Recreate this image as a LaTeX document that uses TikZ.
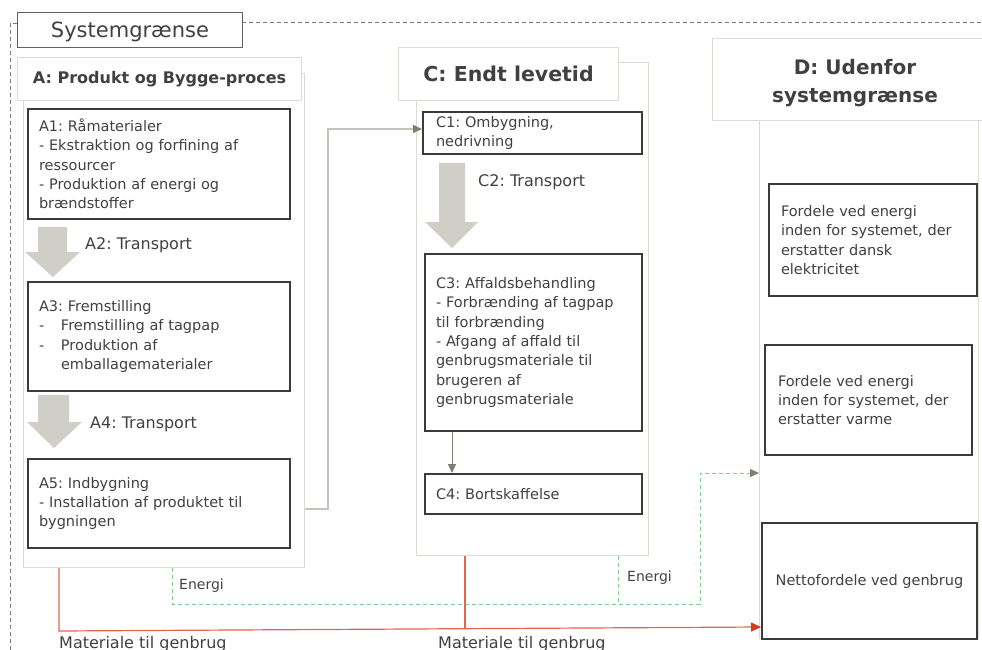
\documentclass[tikz,border=0pt]{standalone}
\usepackage{fontspec}
\setmainfont{DejaVu Sans}
\usetikzlibrary{arrows.meta,calc}
\frenchspacing
\definecolor{txtc}{HTML}{404040}
\definecolor{boxc}{HTML}{3A3A3A}
\definecolor{panelc}{HTML}{DCDCD6}
\definecolor{blockc}{HTML}{CFCFC7}
\definecolor{gconnc}{HTML}{C4C4BC}
\definecolor{olivec}{HTML}{7F7F6F}
\definecolor{greenc}{HTML}{80CC90}
\definecolor{redc}{HTML}{E46450}
\definecolor{redhead}{HTML}{D43A1E}
\definecolor{boundc}{HTML}{7A7A7A}
\begin{document}
\frenchspacing
\begin{tikzpicture}[x=1pt,y=-1pt,
  every node/.style={text=txtc, inner sep=0pt},
  panel/.style={draw=panelc, line width=1.1pt, fill=white, anchor=north west},
  hdr/.style={draw=panelc, line width=1.1pt, fill=white, anchor=north west, align=center},
  procbox/.style={draw=boxc, line width=2pt, fill=white, anchor=north west, align=left,
    font=\fontsize{14.5}{19.3}\selectfont},
  lbl/.style={anchor=base west},
  gconn/.style={draw=gconnc, line width=1.8pt, -{Triangle[length=9pt,width=8pt,color=olivec]}},
  olivearrow/.style={draw=olivec, line width=1pt, -{Triangle[length=9pt,width=8pt,color=olivec]}},
  energy/.style={draw=greenc, line width=1pt, dash pattern=on 4pt off 3pt},
  matl/.style={draw=redc, line width=1.2pt},
  bound/.style={draw=boundc, line width=0.9pt, dash pattern=on 4pt off 3pt}
]
\useasboundingbox (0,0) rectangle (982,650);

% system boundary
\draw[bound] (17,23) -- (10,23) -- (10,650);
\draw[bound] (242,22) -- (982,22);
\node[draw=boxc!80, line width=1.1pt, fill=white, anchor=north west, minimum width=225, minimum height=35] (sysg) at (17,12) {};
\node[font=\fontsize{21}{24}\selectfont, anchor=base] (sysgt) at (130,38) {Systemgrænse};

% panels
\node[panel, minimum width=281, minimum height=494] (apanel) at (23,73) {};
\node[panel, minimum width=232, minimum height=493] (cpanel) at (416,62) {};
\node[panel, minimum width=219, minimum height=518] (dpanel) at (759,120) {};

% headers
\node[hdr, minimum width=284, minimum height=43, font=\bfseries\fontsize{16}{19}\selectfont] (ahead) at (17,57) {A: Produkt og Bygge-proces};
\node[hdr, minimum width=220, minimum height=53, font=\bfseries\fontsize{20.5}{24}\selectfont] (chead) at (398,47) {C: Endt levetid};
\node[hdr, minimum width=286, minimum height=82] (dhead) at (712,38) {};
\node[font=\bfseries\fontsize{20}{28}\selectfont, align=center] (dheadt) at (855,83) {D: Udenfor\\systemgrænse};

% A boxes
\node[procbox, minimum height=110, inner xsep=11pt, text width=240pt] (a1) at (27,108)
  {A1: Råmaterialer\\- Ekstraktion og forfining af\\ressourcer\\- Produktion af energi og\\brændstoffer};
\node[procbox, minimum height=109, inner xsep=11pt, text width=240pt] (a3) at (27,281)
  {A3: Fremstilling\\\makebox[22pt][l]{-}Fremstilling af tagpap\\\makebox[22pt][l]{-}Produktion af\\\hspace*{22pt}emballagematerialer};
\node[procbox, minimum height=89, inner xsep=11pt, text width=240pt] (a5) at (27,458)
  {A5: Indbygning\\- Installation af produktet til\\bygningen};

% C boxes
\node[procbox, minimum height=42, inner xsep=13pt, text width=193pt] (c1) at (422,111)
  {C1: Ombygning,\\nedrivning};
\node[procbox, minimum height=177, inner xsep=11pt, text width=195pt] (c3) at (424,253)
  {C3: Affaldsbehandling\\- Forbrænding af tagpap\\til forbrænding\\- Afgang af affald til\\genbrugsmateriale til\\brugeren af\\genbrugsmateriale};
\node[procbox, minimum height=40, inner xsep=11pt, text width=195pt] (c4) at (424,473)
  {C4: Bortskaffelse};

% D boxes
\node[procbox, minimum height=112, inner xsep=12pt, text width=184pt] (d1) at (768,183)
  {Fordele ved energi\\inden for systemet, der\\erstatter dansk\\elektricitet};
\node[procbox, minimum height=110, inner xsep=13pt, text width=181pt] (d2) at (764,344)
  {Fordele ved energi\\inden for systemet, der\\erstatter varme};
\node[procbox, minimum height=116, minimum width=215, align=center] (d3) at (761,522)
  {Nettofordele ved genbrug};

% block arrows
\fill[blockc] (38,227) -- (67,227) -- (67,252) -- (80,252) -- (53,277) -- (25,252) -- (38,252) -- cycle;
\fill[blockc] (38,395) -- (69,395) -- (69,422) -- (82,422) -- (54,448) -- (27,422) -- (38,422) -- cycle;
\fill[blockc] (439,163) -- (465,163) -- (465,222) -- (478,222) -- (452,248) -- (425,222) -- (439,222) -- cycle;

\node[lbl, font=\fontsize{16}{19}\selectfont] (a2l) at (85,249) {A2: Transport};
\node[lbl, font=\fontsize{16}{19}\selectfont] (a4l) at (90,428) {A4: Transport};
\node[lbl, font=\fontsize{16}{19}\selectfont] (c2l) at (478,186) {C2: Transport};

% connectors
\coordinate (g1) at (328,509);
\coordinate (g2) at (328,129);
\draw[gconn] (apanel.east |- g1) -- (g1) -- (g2) -- (c1.west |- g2);

\coordinate (k) at (452,0);
\draw[olivearrow] (c3.south -| k) -- (c4.north -| k);

\coordinate (e1) at (172,604);
\coordinate (e2) at (700,604);
\coordinate (e3) at (700,473);
\coordinate (e4) at (618,604);
\draw[energy, -{Triangle[length=9pt,width=8pt,color=olivec]}] (apanel.south -| e1) -- (e1) -- (e2) -- (e3) -- (dpanel.west |- e3);
\draw[energy] (cpanel.south -| e4) -- (e4);

\coordinate (m1) at (59,631);
\coordinate (m2) at (759,627);
\coordinate (m3) at (465,629);
\draw[matl, -{Triangle[length=10pt,width=9pt,color=redhead]}] (apanel.south -| m1) -- (m1) -- (d3.west |- m2);
\draw[matl] (cpanel.south -| m3) -- (m3);

\node[lbl, font=\fontsize{14}{17}\selectfont] (en1) at (179,589) {Energi};
\node[lbl, font=\fontsize{14}{17}\selectfont] (en2) at (627,581) {Energi};
\node[lbl, font=\fontsize{16}{19}\selectfont] (mt1) at (59,648) {Materiale til genbrug};
\node[lbl, font=\fontsize{16}{19}\selectfont] (mt2) at (438,648) {Materiale til genbrug};
\end{tikzpicture}
\end{document}
